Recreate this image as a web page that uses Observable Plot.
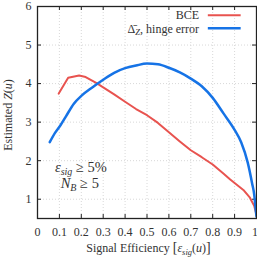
<!DOCTYPE html>
<html><head><meta charset="utf-8">
<script src="https://cdn.jsdelivr.net/npm/d3@7"></script>
<script src="https://cdn.jsdelivr.net/npm/@observablehq/plot@0.6"></script>
<style>html,body{margin:0;padding:0;background:#fff}</style>
</head><body><div id="chart"></div>
<script>
const xTicks = [0,0.1,0.2,0.3,0.4,0.5,0.6,0.7,0.8,0.9,1];
const yTicks = [1,2,3,4,5,6];
const bceX = [0.097,0.14,0.19,0.22,0.27,0.3,0.35,0.4,0.45,0.5,0.55,0.6,0.65,0.7,0.75,0.8,0.85,0.88,0.9,0.94,0.97,0.99,1.0];
const bceY = [3.74,4.15,4.21,4.17,4.01,3.9,3.72,3.53,3.34,3.18,2.98,2.74,2.5,2.27,2.09,1.9,1.66,1.51,1.42,1.24,1.04,0.82,0.6];
const hingeX = [0.056,0.08,0.105,0.13,0.166,0.2,0.25,0.3,0.35,0.4,0.45,0.5,0.55,0.6,0.65,0.7,0.75,0.8,0.85,0.9,0.93,0.96,0.98,0.99,0.995,1.0];
const hingeY = [2.48,2.72,2.92,3.15,3.48,3.68,3.9,4.1,4.28,4.4,4.47,4.52,4.5,4.41,4.29,4.13,3.93,3.63,3.22,2.8,2.48,1.95,1.41,1.1,0.8,0.55];
const seriesNames = ["BCE", "hinge error"];
const colors = ["#e8534f", "#1673e6"];

const bce = bceX.map((x,i)=>({x, y: bceY[i]}));
const hinge = hingeX.map((x,i)=>({x, y: hingeY[i]}));

const FONT = "'Liberation Serif', 'Times New Roman', 'DejaVu Serif', serif";
const W = 257, H = 257, mT = 6, mB = 39, mL = 37, mR = 1;
const innerH = H - mT - mB, innerW = W - mL - mR;
const plot = Plot.plot({
  width: W, height: H,
  marginTop: mT, marginBottom: mB, marginLeft: mL, marginRight: mR,
  style: {fontFamily: FONT, fontSize: "12px", background: "#fff", color: "#333"},
  x: {domain: [0,1]},
  y: {domain: [0.5,6]},
  marks: [
    Plot.gridX(xTicks, {stroke: "#d8d8d8", strokeOpacity: 1, strokeDasharray: "1,2"}),
    Plot.gridY(yTicks, {stroke: "#d8d8d8", strokeOpacity: 1, strokeDasharray: "1,2"}),
    Plot.tickX(xTicks, {x: d=>d, insetTop: innerH-4, stroke: "#222"}),
    Plot.tickX(xTicks, {x: d=>d, insetBottom: innerH-4, stroke: "#222"}),
    Plot.tickY(yTicks, {y: d=>d, insetRight: innerW-4, stroke: "#222"}),
    Plot.tickY(yTicks, {y: d=>d, insetLeft: innerW-4, stroke: "#222"}),
    Plot.line(bce, {x: "x", y: "y", stroke: colors[0], strokeWidth: 2}),
    Plot.line(hinge, {x: "x", y: "y", stroke: colors[1], strokeWidth: 2.5, curve: "monotone-x"}),
    Plot.frame({stroke: "#222", strokeWidth: 1.3}),
    Plot.axisX(xTicks, {tickSize: 0, tickPadding: 9, label: null, tickFormat: d=>String(d), fontSize: 12}),
    Plot.axisY(yTicks, {tickSize: 0, tickPadding: 6, label: null, fontSize: 12})
  ]
});
document.getElementById("chart").appendChild(plot);

const svg = d3.select(plot).attr("font-family", FONT);
svg.selectAll("text").attr("font-family", FONT);
// keep the last x tick label ("1") inside the picture
svg.selectAll("g[aria-label='x-axis tick label'] text").filter(function(){ return this.textContent === "1"; }).attr("dx", -1.5);
const xs = plot.scale("x"), ys = plot.scale("y");
const g = svg.append("g").attr("font-family", FONT).attr("fill", "#333").attr("text-anchor", "start");

// legend
const lx0 = xs.apply(0.78), lx1 = xs.apply(0.93), tx = xs.apply(0.74);
const ly1 = ys.apply(5.76), ly2 = ys.apply(5.42);
g.append("text").attr("x", tx).attr("y", ly1).attr("dy", "0.35em").attr("text-anchor", "end").attr("font-size", 12).text(seriesNames[0]);
g.append("line").attr("x1", lx0).attr("x2", lx1).attr("y1", ly1).attr("y2", ly1).attr("stroke", colors[0]).attr("stroke-width", 2.2);
const t2 = g.append("text").attr("x", tx).attr("y", ly2).attr("dy", "0.35em").attr("text-anchor", "end").attr("font-size", 12);
t2.append("tspan").text("\u0394\u0304");
t2.append("tspan").attr("font-style", "italic").attr("font-size", 8.5).attr("dy", 2.5).text("Z");
t2.append("tspan").attr("dy", -2.5).text(", " + seriesNames[1]);
g.append("line").attr("x1", lx0).attr("x2", lx1).attr("y1", ly2).attr("y2", ly2).attr("stroke", colors[1]).attr("stroke-width", 2.5);

// annotation
const a1 = g.append("text").attr("x", xs.apply(0.082)).attr("y", ys.apply(1.69)).attr("font-size", 14.5);
a1.append("tspan").attr("font-style", "italic").text("\u03b5");
a1.append("tspan").attr("font-style", "italic").attr("font-size", 10).attr("dy", 2.5).text("sig");
a1.append("tspan").attr("dy", -2.5).text(" \u2265 5%");
const a2 = g.append("text").attr("x", xs.apply(0.108)).attr("y", ys.apply(1.27)).attr("font-size", 14.5);
a2.append("tspan").attr("font-style", "italic").text("N");
a2.append("tspan").attr("font-style", "italic").attr("font-size", 10).attr("dy", 2.5).text("B");
a2.append("tspan").attr("dy", -2.5).text(" \u2265 5");

// x label
const xl = g.append("text").attr("x", (mL + W - mR)/2 + 2).attr("y", H - 5).attr("text-anchor", "middle").attr("font-size", 12);
xl.append("tspan").text("Signal Efficiency ");
xl.append("tspan").attr("font-size", 14).text("[");
xl.append("tspan").attr("font-style", "italic").text("\u03b5");
xl.append("tspan").attr("font-style", "italic").attr("font-size", 8.5).attr("dy", 2.5).text("sig");
xl.append("tspan").attr("dy", -2.5).text("(");
xl.append("tspan").attr("font-style", "italic").text("u");
xl.append("tspan").text(")");
xl.append("tspan").attr("font-size", 14).text("]");

// y label
const yl = g.append("text").attr("transform", `translate(12,${(mT + H - mB)/2 + 3}) rotate(-90)`).attr("text-anchor", "middle").attr("font-size", 12);
yl.append("tspan").text("Estimated ");
yl.append("tspan").attr("font-style", "italic").text("Z");
yl.append("tspan").text("(");
yl.append("tspan").attr("font-style", "italic").text("u");
yl.append("tspan").text(")");
</script>
</body></html>
